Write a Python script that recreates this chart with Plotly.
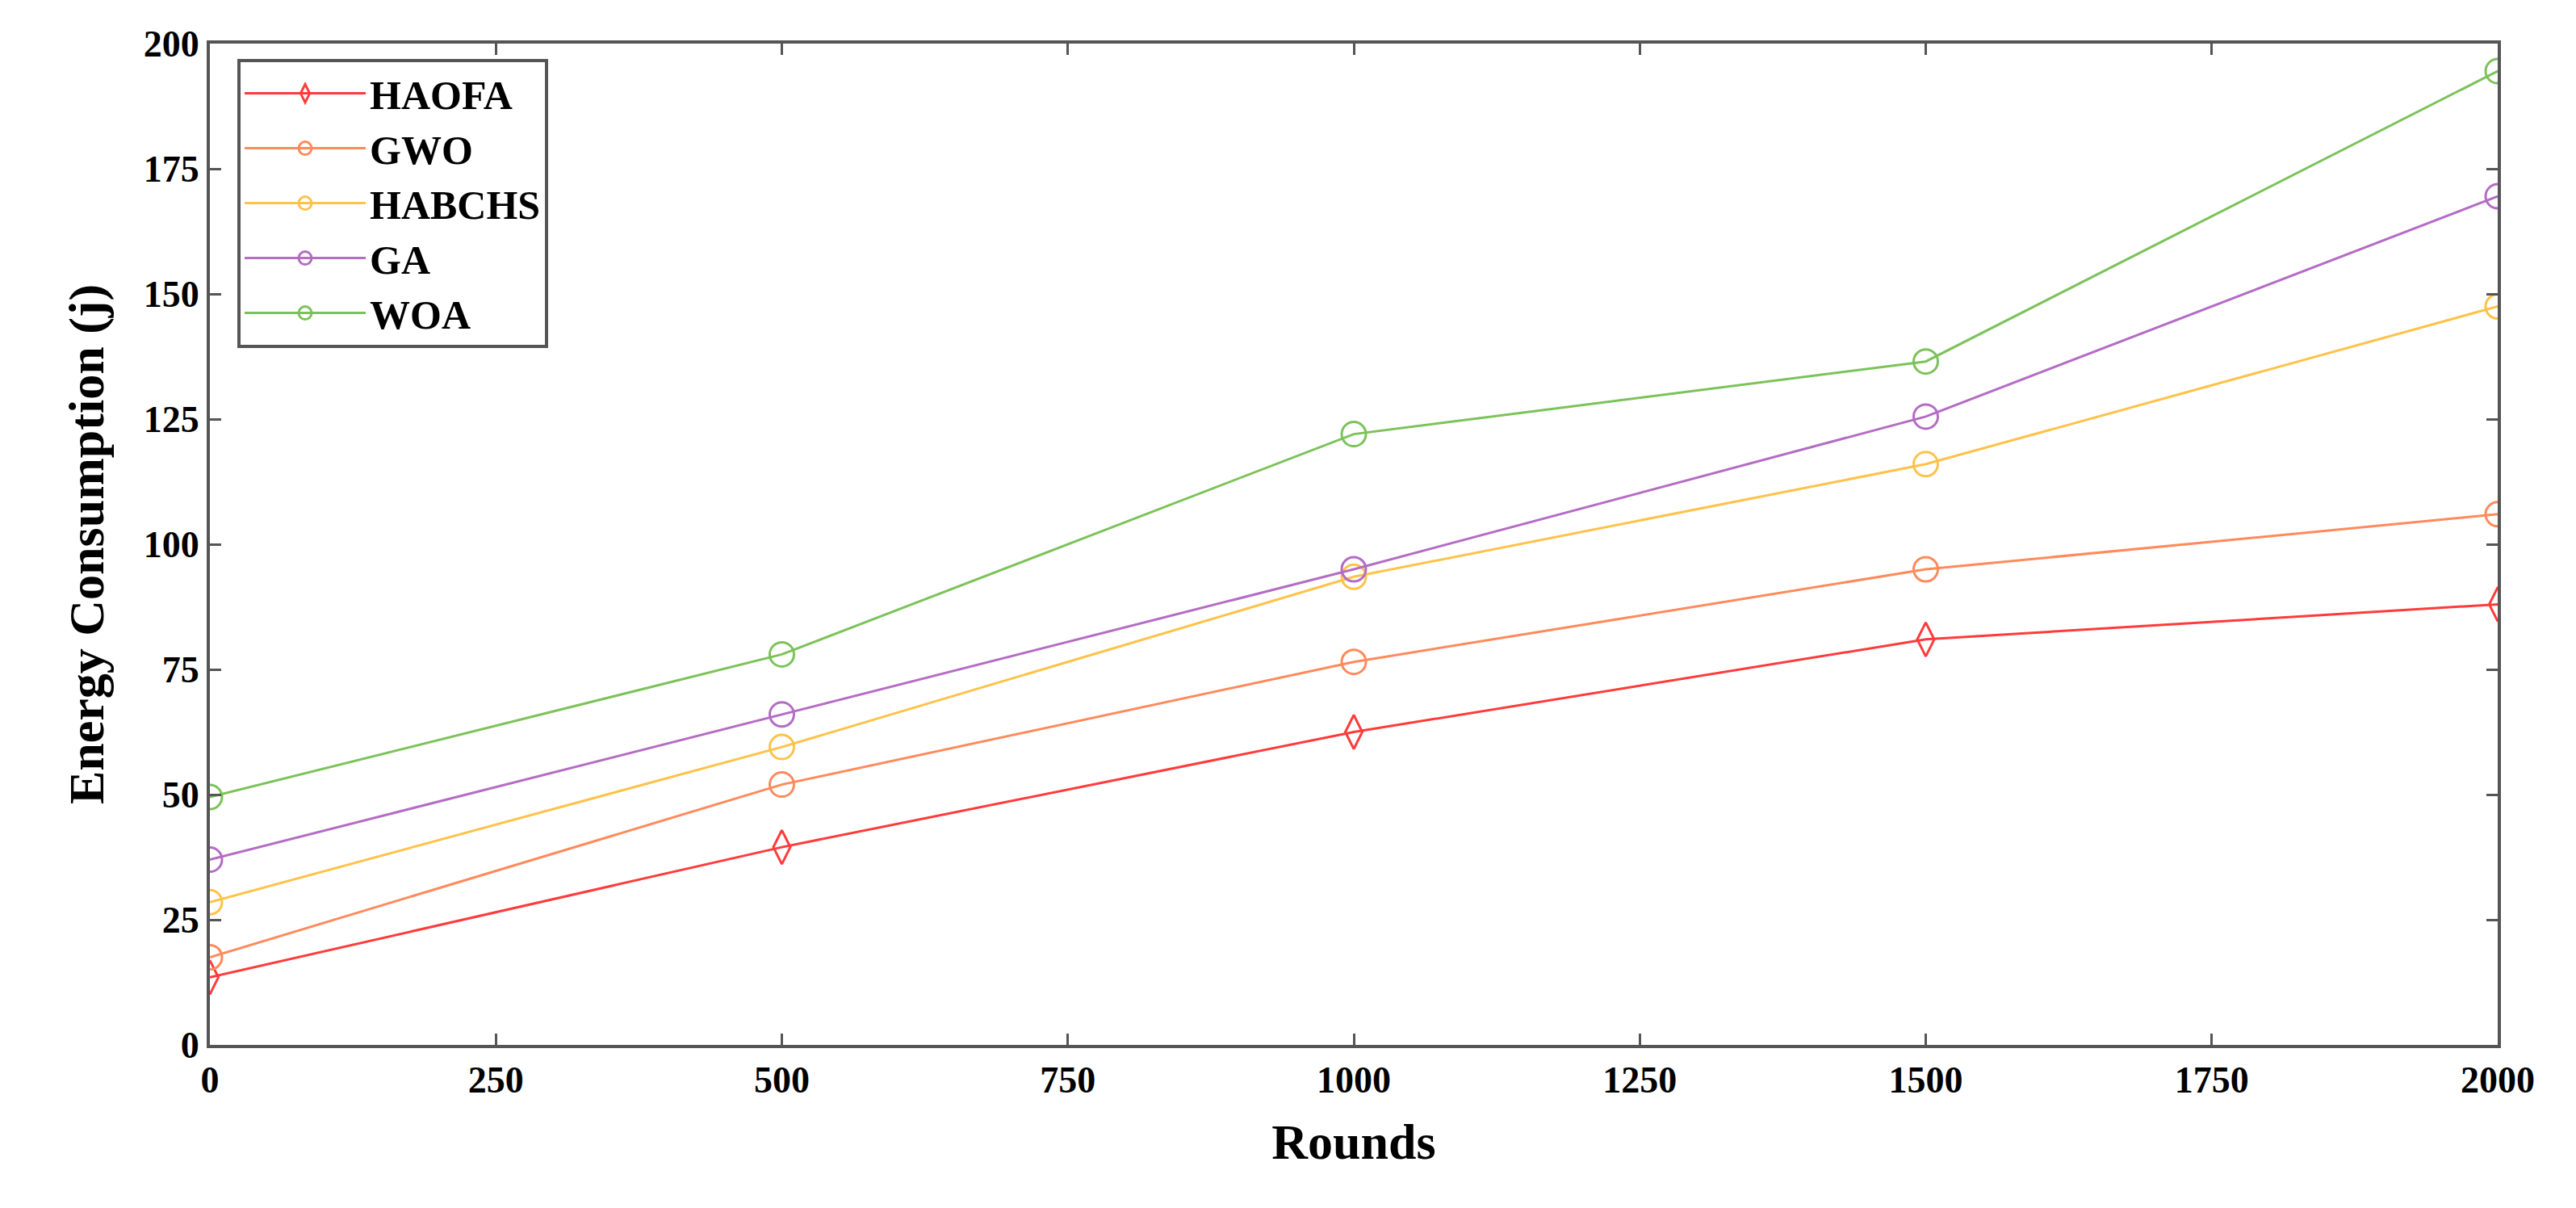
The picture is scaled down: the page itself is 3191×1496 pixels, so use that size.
import plotly.graph_objects as go

rounds = [0, 500, 1000, 1500, 2000]
names = ["HAOFA", "GWO", "HABCHS", "GA", "WOA"]
haofa = [13.5, 39.5, 62.5, 81, 88]
gwo = [17.5, 52, 76.5, 95, 106]
habchs = [28.5, 59.5, 93.5, 116, 147.5]
ga = [37, 66, 95, 125.5, 169.5]
woa = [49.5, 78, 122, 136.5, 194.5]
series = [haofa, gwo, habchs, ga, woa]
colors = ["#ff3b3b", "#ff8a5c", "#ffc24a", "#b46cc4", "#7cc25a"]
symbols = ["diamond-tall-open", "circle-open", "circle-open", "circle-open", "circle-open"]
xticks = [0, 250, 500, 750, 1000, 1250, 1500, 1750, 2000]
yticks = [0, 25, 50, 75, 100, 125, 150, 175, 200]

fig = go.Figure()
for n, s, c, m in zip(names, series, colors, symbols):
    fig.add_trace(go.Scatter(x=rounds, y=s, name="<b>" + n + "</b>", mode="lines+markers",
                             line=dict(color=c, width=3),
                             marker=dict(symbol=m, size=30, color=c, line=dict(width=3, color=c))))

font = dict(family="Liberation Serif", color="black")
ax = dict(showgrid=False, zeroline=False, showline=True, mirror="ticks", linecolor="#555",
          linewidth=4, ticks="inside", ticklen=14, tickwidth=3, tickcolor="#555",
          tickfont=dict(size=46, weight="bold", **font))
fig.update_xaxes(range=[0, 2000], tickvals=xticks, title=dict(text="<b>Rounds</b>", font=dict(size=62, **font), standoff=30), **ax)
fig.update_yaxes(range=[0, 200], tickvals=yticks, title=dict(text="<b>Energy Consumption (j)</b>", font=dict(size=62, **font), standoff=30), **ax)
fig.update_layout(width=3191, height=1496, plot_bgcolor="white", paper_bgcolor="white",
                  margin=dict(l=252, r=105, t=46, b=210),
                  font=dict(family="Liberation Serif", size=46, color="black"),
                  showlegend=True,
                  legend=dict(x=0.012, y=0.985, xanchor="left", yanchor="top",
                              bordercolor="#555", borderwidth=4, bgcolor="white",
                              font=dict(size=50, family="Liberation Serif", color="black"),
                              itemwidth=150, itemsizing="trace", tracegroupgap=0))
fig.write_html("out.html")
